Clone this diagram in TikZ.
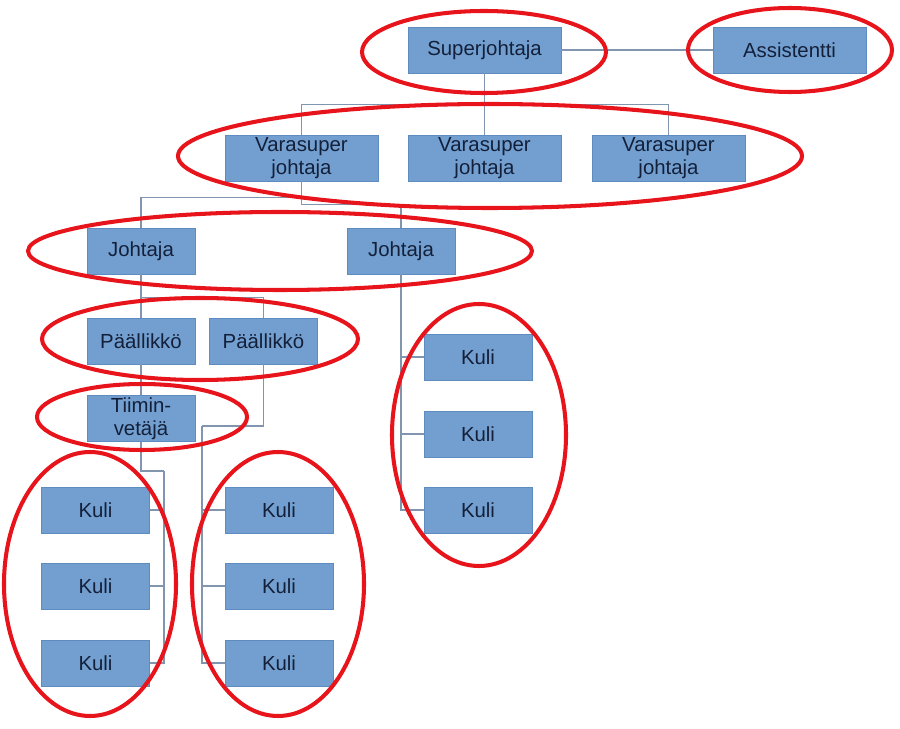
\documentclass[tikz,border=0pt]{standalone}
\usepackage{fontspec}
\setmainfont{Liberation Sans}
\usetikzlibrary{positioning, calc}
\definecolor{oBlue}{HTML}{729FCF}
\definecolor{oEdge}{HTML}{5F8CC0}
\definecolor{oLine}{HTML}{8196AE}
\definecolor{oRed}{HTML}{E8141B}
\definecolor{oText}{HTML}{14203A}

\begin{document}
\begin{tikzpicture}[x=0.02cm, y=-0.02cm,
      box/.style={draw=oEdge, fill=oBlue, line width=0.5pt, inner sep=0pt,
        minimum width=3.06cm, minimum height=0.92cm, align=center,
        text=oText, font=\fontsize{11.6}{13.2}\selectfont},
      small/.style={box, minimum width=2.16cm},
      conn/.style={draw=oLine, line width=0.6pt},
      ring/.style={draw=oRed, line width=2.3pt}]
    \useasboundingbox (0,0) rectangle (900,729);
    % boxes
    \node[box] (sup)  at (484.5,50) {Superjohtaja};
    \node[box] (asst) at (789.5,50) {Assistentti};
    \node[box] (vj1) at (301.5,158) {Varasuper\\johtaja};
    \node[box] (vj2) at (484.5,158) {Varasuper\\johtaja};
    \node[box] (vj3) at (668.5,158) {Varasuper\\johtaja};
    \node[small] (joh1) at (141,251) {Johtaja};
    \node[small] (joh2) at (401,251) {Johtaja};
    \node[small] (pal1) at (141,341) {Päällikkö};
    \node[small] (pal2) at (263.5,341) {Päällikkö};
    \node[small] (tii)  at (141,418.5) {Tiimin-\\vetäjä};
    \foreach \n/\y in {a/510,b/586,c/663} {
      \node[small] (k1\n) at (95.5,\y) {Kuli};
      \node[small] (k2\n) at (279,\y) {Kuli};
    }
    \foreach \n/\y in {a/357,b/434,c/510}
      \node[small] (k3\n) at (478,\y) {Kuli};
    % connectors
    \coordinate (bus1) at (164,471);
    \coordinate (bus2) at (202,426);
    \draw[conn] (sup.east) -- (asst.west);
    \draw[conn] (sup.south) -- ++(0,31) -| (vj1.north);
    \draw[conn] (sup.south) -- (vj2.north);
    \draw[conn] (sup.south) -- ++(0,31) -| (vj3.north);
    \draw[conn] (vj1.south) -- ++(0,16) -| (joh1.north);
    \draw[conn] (vj1.south) -- ++(0,23) -| (joh2.north);
    \draw[conn] (joh1.south) -- (pal1.north);
    \draw[conn] (joh1.south) -- ++(0,23) -| (pal2.north);
    \draw[conn] (pal1.south) -- (tii.north);
    \draw[conn] (tii.south) |- (bus1);
    \draw[conn] (pal2.south) |- (bus2);
    \foreach \n in {a,b,c} {
      \draw[conn] (bus1) |- (k1\n.east);
      \draw[conn] (bus2) |- (k2\n.west);
      \draw[conn] (joh2.south) |- (k3\n.west);
    }
    % red rings
    \draw[ring] (484,52) ellipse [x radius=122, y radius=41];
    \draw[ring] (790,50) ellipse [x radius=102, y radius=42];
    \draw[ring] (490,156) ellipse [x radius=312, y radius=52];
    \draw[ring] (280,251) ellipse [x radius=252, y radius=39];
    \draw[ring] (200,339) ellipse [x radius=158, y radius=41];
    \draw[ring] (142,417) ellipse [x radius=105, y radius=33];
    \draw[ring] (90,584) ellipse [x radius=86, y radius=132];
    \draw[ring] (278,584) ellipse [x radius=86, y radius=132];
    \draw[ring] (479,435) ellipse [x radius=87, y radius=131];
  \end{tikzpicture}
\end{document}
